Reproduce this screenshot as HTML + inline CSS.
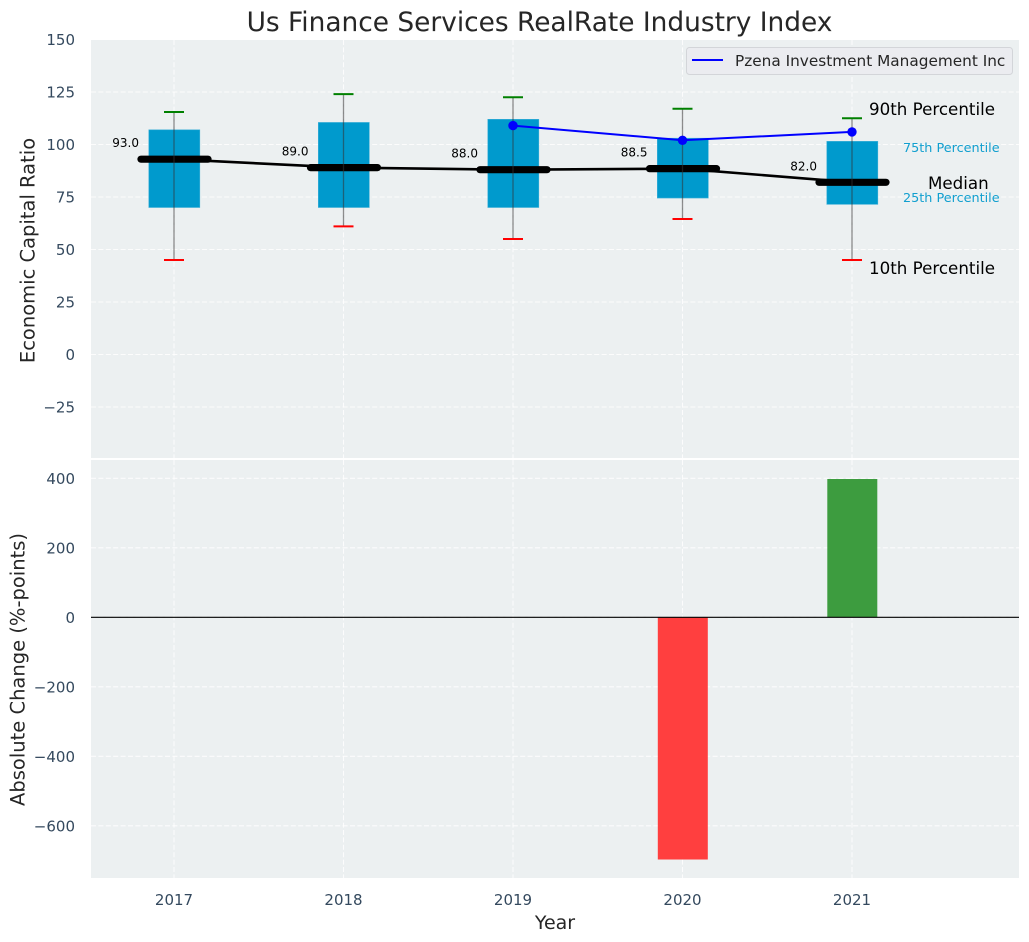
<!DOCTYPE html>
<html lang="en">
<head>
<meta charset="utf-8">
<title>Us Finance Services RealRate Industry Index</title>
<style>
html,body{margin:0;padding:0;background:#fff;width:1029px;height:942px;overflow:hidden}
svg{display:block;position:absolute;left:0;top:0}
text{font-family:"DejaVu Sans","Liberation Sans",sans-serif}
</style>
</head>
<body>
<svg id="chart" width="1029" height="942" viewBox="0 0 1029 942" xmlns="http://www.w3.org/2000/svg">
  <text x="539.5" y="31" text-anchor="middle" font-size="26.4" fill="#262626">Us Finance Services RealRate Industry Index</text>
  <rect x="91" y="40" width="928" height="418" fill="#ecf0f1"/>
  <rect x="91" y="460" width="928" height="418" fill="#ecf0f1"/>
  <text transform="translate(34.5 250.5) rotate(-90)" text-anchor="middle" font-size="19.5" fill="#262626">Economic Capital Ratio</text>
  <text transform="translate(24.5 669.5) rotate(-90)" text-anchor="middle" font-size="19.5" fill="#262626">Absolute Change (%-points)</text>
  <text x="555" y="929" text-anchor="middle" font-size="19" fill="#262626">Year</text>
  <g id="grid"></g>
  <g id="ticks"></g>
  <g id="marks"></g>
  <g id="notes"></g>
  <g>
    <rect x="686.5" y="47.5" width="326" height="27" rx="3" fill="#ebecf0" stroke="#d3d5d9" stroke-width="1"/>
    <line x1="692" y1="60" x2="723" y2="60" stroke="#0000ff" stroke-width="2"/>
    <text x="735" y="66" font-size="15.3" fill="#262626">Pzena Investment Management Inc</text>
  </g>
</svg>
<script>
const years = [2017, 2018, 2019, 2020, 2021];
const p90 = [115.5, 124, 122.5, 117, 112.5];
const p75 = [107, 110.5, 112, 103, 101.5];
const medians = [93, 89, 88, 88.5, 82];
const p25 = [70, 70, 70, 74.5, 71.5];
const p10 = [45, 61, 55, 64.5, 45];
const companyYears = [2019, 2020, 2021];
const companyValues = [109, 102, 106];
const changeYears = [2020, 2021];
const changeValues = [-697, 398];
const topTicks = [150, 125, 100, 75, 50, 25, 0, -25];
const bottomTicks = [400, 200, 0, -200, -400, -600];

const NS = 'http://www.w3.org/2000/svg';
const L = 91, R = 1019, T1 = 40, B1 = 458, T2 = 460, B2 = 878;
const x = v => 174 + (v - 2017) * 169.5;
const y1 = v => 354.5 - v * 2.1;
const y2 = v => 617.3 - v * 0.3475;
const gridG = document.getElementById('grid');
const tickG = document.getElementById('ticks');
const markG = document.getElementById('marks');
const noteG = document.getElementById('notes');

function mk(parent, tag, attrs, txt) {
  const el = document.createElementNS(NS, tag);
  for (const k in attrs) el.setAttribute(k, attrs[k]);
  if (txt !== undefined) el.textContent = txt;
  parent.appendChild(el);
  return el;
}
const gridStyle = {stroke: '#ffffff', 'stroke-width': 1.1, 'stroke-dasharray': '5,2.4', opacity: 0.85};
function tickText(v) { return String(v).replace('-', '\u2212'); }

topTicks.forEach(v => {
  const g = mk(gridG, 'line', {x1: L, x2: R, y1: y1(v), y2: y1(v), ...gridStyle});
  
  
  const t = mk(tickG, 'text', {x: 75, y: y1(v) + 5.5, 'text-anchor': 'end', 'font-size': 15, fill: '#34495e'}, tickText(v));
  
  
});
bottomTicks.forEach(v => {
  const g = mk(gridG, 'line', {x1: L, x2: R, y1: y2(v), y2: y2(v), ...gridStyle});
  
  
  const t = mk(tickG, 'text', {x: 75, y: y2(v) + 5.5, 'text-anchor': 'end', 'font-size': 15, fill: '#34495e'}, tickText(v));
  
  
});
years.forEach(yr => {
  const a = mk(gridG, 'line', {x1: x(yr), x2: x(yr), y1: T1, y2: B1, ...gridStyle});
  
  
  const b = mk(gridG, 'line', {x1: x(yr), x2: x(yr), y1: T2, y2: B2, ...gridStyle});
  
  
  const t = mk(tickG, 'text', {x: x(yr), y: 905, 'text-anchor': 'middle', 'font-size': 15, fill: '#34495e'}, String(yr));
  
  
});

/* interquartile boxes */
years.forEach((yr, i) => {
  const r = mk(markG, 'rect', {x: x(yr) - 25.2, y: y1(p75[i]), width: 51, height: y1(p25[i]) - y1(p75[i]), fill: '#009acd', stroke: '#3fb0d8', 'stroke-width': 0.6});
  
  
});
/* median trend line */
const medLine = mk(markG, 'polyline', {points: years.map((yr, i) => x(yr) + ',' + y1(medians[i])).join(' '), fill: 'none', stroke: '#000', 'stroke-width': 2.6});


years.forEach((yr, i) => {
  const m = mk(markG, 'line', {x1: x(yr) - 33, x2: x(yr) + 34, y1: y1(medians[i]), y2: y1(medians[i]), stroke: '#000', 'stroke-width': 7.2, 'stroke-linecap': 'round'});
  
  
  const w = mk(markG, 'line', {x1: x(yr), x2: x(yr), y1: y1(p90[i]), y2: y1(p10[i]), stroke: '#333', 'stroke-width': 1.3, opacity: 0.55});
  
  
  const c1 = mk(markG, 'line', {x1: x(yr) - 10, x2: x(yr) + 10, y1: y1(p90[i]), y2: y1(p90[i]), stroke: '#008000', 'stroke-width': 2});
  
  
  const c2 = mk(markG, 'line', {x1: x(yr) - 10, x2: x(yr) + 10, y1: y1(p10[i]), y2: y1(p10[i]), stroke: '#ff0000', 'stroke-width': 2});
  
  
  const t = mk(markG, 'text', {x: x(yr) - 35, y: y1(medians[i]) - 12, 'text-anchor': 'end', 'font-size': 12, fill: '#000'}, medians[i].toFixed(1));
  
  
});
/* company series */
const coLine = mk(markG, 'polyline', {points: companyYears.map((yr, i) => x(yr) + ',' + y1(companyValues[i])).join(' '), fill: 'none', stroke: '#0000ff', 'stroke-width': 2});


companyYears.forEach((yr, i) => {
  const d = mk(markG, 'circle', {cx: x(yr), cy: y1(companyValues[i]), r: 4.7, fill: '#0000ff'});
  
  
});
/* change bars */
changeYears.forEach((yr, i) => {
  const v = changeValues[i];
  const top = Math.min(y2(0), y2(v));
  const b = mk(markG, 'rect', {x: x(yr) - 24.7, y: top, width: 50, height: Math.abs(y2(v) - y2(0)), fill: v < 0 ? '#ff3f3f' : '#3d9c3f'});
  
  
});
const zero = mk(markG, 'line', {x1: L, x2: R, y1: y2(0), y2: y2(0), stroke: '#000', 'stroke-width': 1.2});



/* percentile annotations on the last year */
const last = years.length - 1;
const xLast = x(years[last]);
const n90 = mk(noteG, 'text', {x: xLast + 17, y: y1(p90[last]) - 3.5, 'font-size': 16.7, fill: '#000'}, '90th Percentile');


const n75 = mk(noteG, 'text', {x: xLast + 51, y: y1(p75[last]) + 10.5, 'font-size': 12.8, fill: '#119fcf'}, '75th Percentile');


const nMed = mk(noteG, 'text', {x: xLast + 76, y: y1(medians[last]) + 6.5, 'font-size': 16.7, fill: '#000'}, 'Median');


const n25 = mk(noteG, 'text', {x: xLast + 51, y: y1(p25[last]) - 2.5, 'font-size': 12.8, fill: '#119fcf'}, '25th Percentile');


const n10 = mk(noteG, 'text', {x: xLast + 17, y: y1(p10[last]) + 14, 'font-size': 16.7, fill: '#000'}, '10th Percentile');


</script>
</body>
</html>
